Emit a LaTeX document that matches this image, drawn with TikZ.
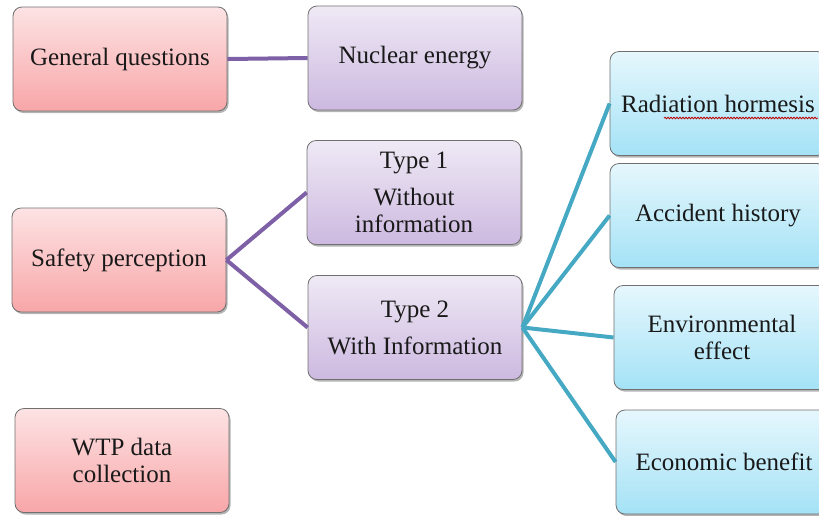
\documentclass[tikz,border=0pt]{standalone}
\usepackage{fontspec}
\newfontfamily\boxfont{Liberation Serif}
\usetikzlibrary{shadows,decorations.pathmorphing}
\definecolor{pinkT}{HTML}{FDE3E4}
\definecolor{pinkB}{HTML}{F8A6A8}
\definecolor{purT}{HTML}{EFE9F5}
\definecolor{purB}{HTML}{CDB9E0}
\definecolor{cyT}{HTML}{E6F7FD}
\definecolor{cyB}{HTML}{A4E2F6}
\definecolor{edge}{HTML}{707070}
\definecolor{purLine}{HTML}{7D60A6}
\definecolor{cyLine}{HTML}{46A9C4}
\definecolor{shade}{HTML}{B4B4B4}
\tikzset{
  box/.style={draw=edge, line width=0.8pt, rounded corners=9pt,
    minimum width=214pt, minimum height=104pt, align=center,
    font=\boxfont\fontsize{25}{27}\selectfont, text=black!90,
    general shadow={shadow xshift=1.5pt, shadow yshift=-2pt, fill=shade, draw=none}},
  pinkbox/.style={box, top color=pinkT, bottom color=pinkB},
  purbox/.style={box, top color=purT, bottom color=purB},
  cybox/.style={box, top color=cyT, bottom color=cyB, minimum width=216pt},
  purconn/.style={draw=purLine, line width=4pt},
  cyconn/.style={draw=cyLine, line width=4pt},
}
\begin{document}
\begin{tikzpicture}[x=1pt,y=1pt]
\useasboundingbox (0,0) rectangle (819,-515);
% left column
\node[pinkbox] (gen) at (120,-59) {General questions};
\node[pinkbox] (saf) at (119,-260) {Safety perception};
\node[pinkbox] (wtp) at (122,-460.5) {WTP data\\collection};
% middle column
\node[purbox] (nuc) at (415,-58) {Nuclear energy};
\node[purbox] (t1) at (414,-192.5) {Type 1\\[10pt]Without\\information};
\node[purbox] (t2) at (415,-327.5) {Type 2\\[10pt]With Information};
% right column
\node[cybox] (rad) at (718,-103.5) {Radiation hormesis};
\node[cybox] (acc) at (718,-215.5) {Accident history};
\node[cybox] (env) at (722,-337.5) {Environmental\\effect};
\node[cybox] (eco) at (724,-462) {Economic benefit};
% spell-check squiggle
\draw[red!75!black, line width=0.8pt, decorate, decoration={snake, amplitude=0.8pt, segment length=3pt}]
  (664,-118) -- (818,-118);
% connectors
\draw[purconn] (gen.east) -- (nuc.west);
\draw[purconn] (saf.east) -- (t1.west);
\draw[purconn] (saf.east) -- (t2.west);
\draw[cyconn] (t2.east) -- (rad.west);
\draw[cyconn] (t2.east) -- (acc.west);
\draw[cyconn] (t2.east) -- (env.west);
\draw[cyconn] (t2.east) -- (eco.west);
\end{tikzpicture}
\end{document}
